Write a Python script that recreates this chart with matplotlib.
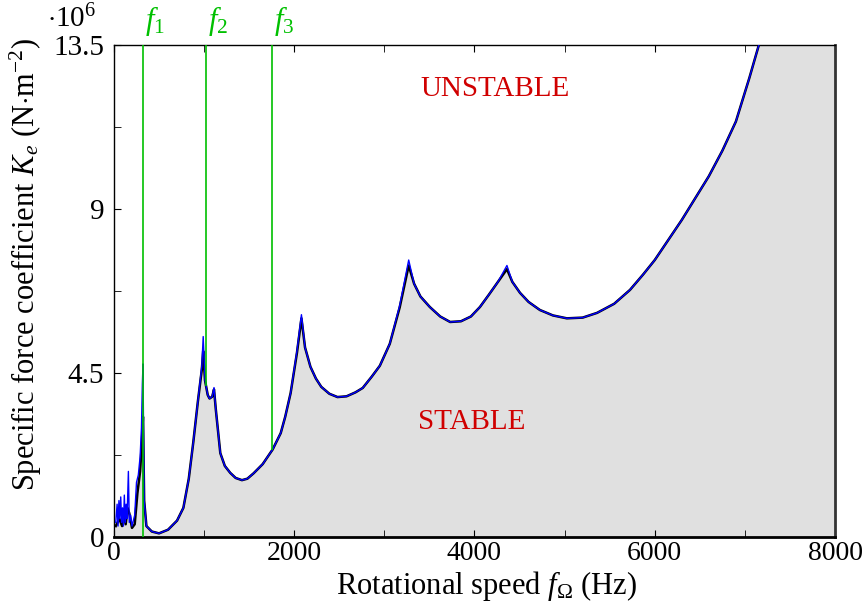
import numpy as np
import matplotlib.pyplot as plt
from matplotlib.ticker import MultipleLocator

plt.switch_backend('agg')

plt.rcParams['font.family'] = ['Liberation Serif', 'DejaVu Serif']
plt.rcParams['mathtext.fontset'] = 'custom'
plt.rcParams['mathtext.rm'] = 'Liberation Serif'
plt.rcParams['mathtext.it'] = 'Liberation Serif:italic'

# stability boundary (black), rotational speed in Hz, Ke in 1e6 N/m^2
freq = [20, 60, 90, 110, 130, 150, 170, 200, 230, 260, 290, 310, 322, 335, 360,
        420, 500, 600, 700, 770, 830, 880, 930, 975, 990, 1010, 1040, 1060, 1090,
        1110, 1130, 1180, 1230, 1290, 1350, 1420, 1480, 1550, 1650, 1760, 1850,
        1900, 1960, 2030, 2080, 2120, 2180, 2240, 2300, 2390, 2480, 2580, 2680,
        2760, 2860, 2950, 3060, 3170, 3270, 3330, 3400, 3505, 3620, 3730, 3850,
        3960, 4060, 4160, 4260, 4360, 4420, 4505, 4600, 4725, 4870, 5025, 5200,
        5360, 5550, 5725, 5870, 6000, 6150, 6300, 6450, 6600, 6750, 6900, 7050,
        7155, 7300, 7500, 7750, 8000]
ke = [0.3, 0.5, 0.3, 0.6, 0.35, 0.8, 0.65, 0.25, 0.35, 1.2, 1.8, 2.6, 3.3, 1.0, 0.3,
      0.15, 0.1, 0.2, 0.45, 0.8, 1.6, 2.6, 3.7, 4.6, 5.1, 4.3, 3.9, 3.8, 3.85,
      4.05, 3.5, 2.3, 1.95, 1.76, 1.62, 1.56, 1.6, 1.75, 2.0, 2.4, 2.85,
      3.3, 3.95, 5.05, 6.0, 5.2, 4.67, 4.35, 4.12, 3.93, 3.84, 3.86, 3.97,
      4.09, 4.4, 4.7, 5.3, 6.3, 7.45, 6.95, 6.6, 6.31, 6.05, 5.9, 5.92,
      6.05, 6.31, 6.65, 7.0, 7.35, 7.0, 6.7, 6.45, 6.23, 6.08, 6.0, 6.02,
      6.15, 6.4, 6.78, 7.2, 7.6, 8.15, 8.7, 9.3, 9.9, 10.6, 11.4, 12.6,
      13.5, 14.6, 16.0, 18.0, 20.0]

# second solution (blue), same speed grid with the noisy low-speed part
freq_b = [20, 35, 45, 55, 65, 75, 85, 95, 105, 115, 125, 135, 145, 160, 170, 185,
          200, 215, 230, 250, 270, 290, 305, 315, 322, 328, 335, 360,
          420, 500, 600, 700, 770, 830, 880, 930, 975, 990, 1010, 1040, 1060, 1090,
          1110, 1130, 1180, 1230, 1290, 1350, 1420, 1480, 1550, 1650, 1760, 1850,
          1900, 1960, 2030, 2080, 2120, 2180, 2240, 2300, 2390, 2480, 2580, 2680,
          2760, 2860, 2950, 3060, 3170, 3270, 3330, 3400, 3505, 3620, 3730, 3850,
          3960, 4060, 4160, 4260, 4360, 4420, 4505, 4600, 4725, 4870, 5025, 5200,
          5360, 5550, 5725, 5870, 6000, 6150, 6300, 6450, 6600, 6750, 6900, 7050,
          7155, 7300, 7500, 7750, 8000]
ke_b = [0.4, 0.9, 0.3, 1.0, 0.5, 1.1, 0.4, 0.8, 0.3, 1.15, 0.4, 0.9, 0.5, 1.8, 0.4, 0.6,
        0.3, 0.45, 0.6, 1.5, 1.7, 2.2, 3.0, 4.2, 4.75, 3.0, 1.0, 0.3,
        0.15, 0.1, 0.2, 0.45, 0.8, 1.6, 2.6, 3.7, 4.7, 5.5, 4.3, 3.9, 3.8, 3.85,
        4.1, 3.5, 2.3, 1.95, 1.76, 1.62, 1.56, 1.6, 1.75, 2.0, 2.4, 2.85,
        3.3, 3.95, 5.1, 6.1, 5.2, 4.67, 4.35, 4.12, 3.93, 3.84, 3.86, 3.97,
        4.09, 4.4, 4.7, 5.3, 6.35, 7.6, 6.95, 6.6, 6.31, 6.05, 5.9, 5.92,
        6.05, 6.31, 6.65, 7.0, 7.45, 7.0, 6.7, 6.45, 6.23, 6.08, 6.0, 6.02,
        6.15, 6.4, 6.78, 7.2, 7.6, 8.15, 8.7, 9.3, 9.9, 10.6, 11.4, 12.6,
        13.5, 14.6, 16.0, 18.0, 20.0]

f_lines = [322, 1021, 1754]
f_names = ['$f_1$', '$f_2$', '$f_3$']

green = '#00c000'
red = '#d00000'

fig = plt.figure(figsize=(8.68, 6.05), dpi=100)
ax = fig.add_axes([0.1313, 0.1124, 0.8307, 0.8132])

ax.fill_between(freq, ke, 0, color='#e0e0e0', lw=0, zorder=1)
ax.plot(freq, ke, color='black', lw=1.8, zorder=3)
ax.plot(freq_b, ke_b, color='blue', lw=1.0, zorder=4)

ymax = 13.5
for i, f in enumerate(f_lines):
    low = 0 if i == 0 else np.interp(f, freq, ke)
    ax.vlines(f, low, ymax, color=green, lw=1.2, zorder=5)
    ax.text(f + 130, ymax + 0.2, f_names[i], color=green, fontsize=22,
            ha='center', va='bottom')

ax.text(4230, 12.3, 'UNSTABLE', color=red, fontsize=21, ha='center', va='center')
ax.text(3970, 3.15, 'STABLE', color=red, fontsize=21, ha='center', va='center')

ax.set_xlim(0, 8000)
ax.set_ylim(0, ymax)
ax.xaxis.set_major_locator(MultipleLocator(2000))
ax.xaxis.set_minor_locator(MultipleLocator(1000))
ax.yaxis.set_minor_locator(MultipleLocator(2.25))
ax.set_yticks([0, 4.5, 9, 13.5])
ax.set_yticklabels(['0', '4.5', '9', '13.5'], fontsize=21)
ax.tick_params(axis='x', which='both', direction='in', top=True, labelsize=20, pad=3)
ax.tick_params(axis='y', which='both', direction='in', right=False, pad=7)
ax.tick_params(which='major', length=5)
ax.tick_params(which='minor', length=5)

for s in ['left', 'top']:
    ax.spines[s].set_linewidth(1.0)
ax.spines['bottom'].set_linewidth(2.0)
ax.spines['right'].set_linewidth(2.0)
ax.spines['right'].set_color('#333333')

ax.set_xlabel(r'Rotational speed $f_\Omega$ (Hz)', fontsize=22)
ax.xaxis.set_label_coords(0.517, -0.066)
ax.set_ylabel(r'Specific force coefficient $K_e$ (N$\cdot$m$^{-2}$)', fontsize=22)
ax.yaxis.set_label_coords(-0.097, 0.553)
fig.text(0.054, 0.955, r'$\cdot 10^6$', fontsize=21, ha='left', va='baseline')

fig.savefig('out.png', dpi=100)
